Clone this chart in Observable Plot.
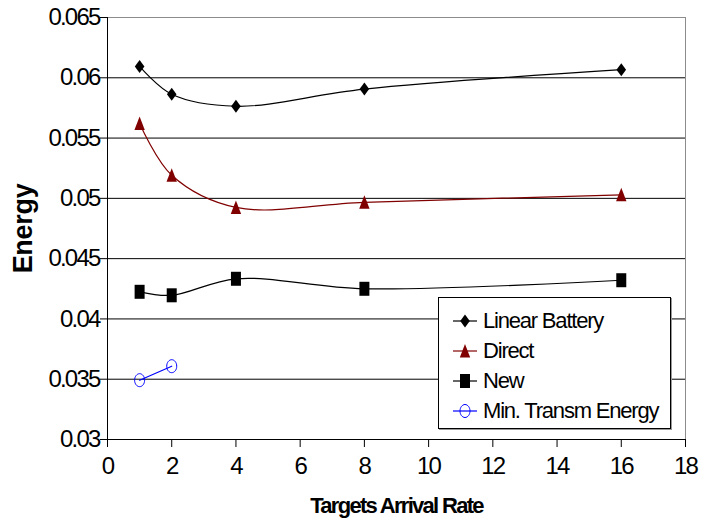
<!DOCTYPE html>
<html>
<head>
<meta charset="utf-8">
<script src="https://cdn.jsdelivr.net/npm/d3@7"></script>
<script src="https://cdn.jsdelivr.net/npm/@observablehq/plot@0.6"></script>
<style>
  html, body { margin: 0; padding: 0; background: #fff; }
  #wrap { position: relative; width: 715px; height: 527px; }
  #wrap svg text { letter-spacing: -1.8px; }
  #wrap svg g.ytitle text { letter-spacing: -0.3px; }
  #wrap svg g.xtitle text { letter-spacing: -1.7px; }
  #legend {
    position: absolute; left: 438px; top: 297px; width: 233px; height: 132px;
    box-sizing: border-box; border: 1px solid #000; background: #fff;
    box-shadow: 1px 1px 0 #999;
    font-family: "Liberation Sans", Arial, sans-serif; font-size: 22px; letter-spacing: -1.2px;
    padding-top: 8px;
  }
  .item { display: flex; align-items: center; height: 30px; }
  .item svg { margin-left: 14px; margin-right: 6px; }
</style>
</head>
<body>
<div id="wrap"></div>
<script>
// ---- data ----
const rates = [1, 2, 4, 8, 16];
const linearBattery = [0.06094, 0.05863, 0.05764, 0.05906, 0.06067];
const direct = [0.05621, 0.05192, 0.04925, 0.04967, 0.05029];
const newScheme = [0.04225, 0.04196, 0.04333, 0.04250, 0.04321];
const minRates = [1, 2];
const minTransm = [0.03492, 0.03608];
const seriesNames = ["Linear Battery", "Direct", "New", "Min. Transm Energy"];
const xTicks = [0, 2, 4, 6, 8, 10, 12, 14, 16, 18];
const yTicks = [0.03, 0.035, 0.04, 0.045, 0.05, 0.055, 0.06, 0.065];
const yTickLabels = ["0.03", "0.035", "0.04", "0.045", "0.05", "0.055", "0.06", "0.065"];
const xTitle = "Targets Arrival Rate";
const yTitle = "Energy";

// ---- symbols ----
const diamondSym = {draw(c) { c.moveTo(0, -6.5); c.lineTo(4.8, 0); c.lineTo(0, 6.5); c.lineTo(-4.8, 0); c.closePath(); }};
const triangleSym = {draw(c) { c.moveTo(0, -7); c.lineTo(5.2, 6.5); c.lineTo(-5.2, 6.5); c.closePath(); }};
const rectSym = {draw(c) { c.rect(-5, -7, 10, 14); }};
const ellipseSym = {draw(c) {
  const rx = 5, ry = 6.5, k = 0.5523;
  c.moveTo(rx, 0);
  c.bezierCurveTo(rx, ry * k, rx * k, ry, 0, ry);
  c.bezierCurveTo(-rx * k, ry, -rx, ry * k, -rx, 0);
  c.bezierCurveTo(-rx, -ry * k, -rx * k, -ry, 0, -ry);
  c.bezierCurveTo(rx * k, -ry, rx, -ry * k, rx, 0);
  c.closePath();
}};

const colors = ["#000000", "#800000", "#000000", "#0000ff"];

const toRows = (xs, ys) => xs.map((x, i) => ({x, y: ys[i]}));
const lb = toRows(rates, linearBattery);
const dr = toRows(rates, direct);
const nw = toRows(rates, newScheme);
const mt = toRows(minRates, minTransm);

const gridVals = yTicks.filter(v => v > 0.03 && v < 0.065);

const chart = Plot.plot({
  width: 715,
  height: 527,
  marginLeft: 107,
  marginRight: 30,
  marginTop: 17,
  marginBottom: 88,
  style: {fontFamily: "'Liberation Sans', Arial, sans-serif", fontSize: "24px", background: "#fff"},
  x: {domain: [0, 18]},
  y: {domain: [0.03, 0.065]},
  marks: [
    Plot.ruleY(gridVals, {stroke: "#000", strokeWidth: 1}),
    Plot.ruleY([0.065], {stroke: "#8c8c8c", strokeWidth: 1}),
    Plot.ruleX([18], {stroke: "#8c8c8c", strokeWidth: 1}),
    Plot.ruleX([0], {stroke: "#000", strokeWidth: 1}),
    Plot.ruleY([0.03], {stroke: "#000", strokeWidth: 1}),
    Plot.axisY({ticks: yTicks, tickFormat: d => yTickLabels[yTicks.indexOf(d)], tickSize: 7, tickPadding: 1, label: null, fontSize: 24, stroke: "#000"}),
    Plot.axisX({ticks: xTicks, tickFormat: d => String(d), tickSize: 8, tickPadding: 9, label: null, fontSize: 24, stroke: "#000"}),
    Plot.line(lb, {x: "x", y: "y", stroke: colors[0], strokeWidth: 1.2, curve: "catmull-rom"}),
    Plot.line(dr, {x: "x", y: "y", stroke: colors[1], strokeWidth: 1.2, curve: "catmull-rom"}),
    Plot.line(nw, {x: "x", y: "y", stroke: colors[2], strokeWidth: 1.2, curve: "catmull-rom"}),
    Plot.line(mt, {x: "x", y: "y", stroke: colors[3], strokeWidth: 1.2}),
    Plot.dot(lb, {x: "x", y: "y", symbol: diamondSym, fill: colors[0], stroke: "none"}),
    Plot.dot(dr, {x: "x", y: "y", symbol: triangleSym, fill: colors[1], stroke: "none"}),
    Plot.dot(nw, {x: "x", y: "y", symbol: rectSym, fill: colors[2], stroke: "none"}),
    Plot.dot(mt, {x: "x", y: "y", symbol: ellipseSym, fill: "none", stroke: colors[3], strokeWidth: 1}),
    Plot.text([yTitle], {frameAnchor: "left", text: d => d, rotate: -90, dx: -84, textAnchor: "middle", lineAnchor: "middle", fontWeight: "bold", fontSize: 27, className: "ytitle"}),
    Plot.text([xTitle], {frameAnchor: "bottom", text: d => d, dy: 66, textAnchor: "middle", lineAnchor: "middle", fontWeight: "bold", fontSize: 22, className: "xtitle"})
  ]
});

const wrap = document.getElementById("wrap");
wrap.appendChild(chart);

// ---- legend (HTML overlay inside the plot area) ----
const legend = document.createElement("div");
legend.id = "legend";
const symbols = [diamondSym, triangleSym, rectSym, ellipseSym];
seriesNames.forEach((name, i) => {
  const item = document.createElement("div");
  item.className = "item";
  const ns = "http://www.w3.org/2000/svg";
  const s = document.createElementNS(ns, "svg");
  s.setAttribute("width", 24); s.setAttribute("height", 16);
  const ln = document.createElementNS(ns, "line");
  ln.setAttribute("x1", 0); ln.setAttribute("x2", 24); ln.setAttribute("y1", 8); ln.setAttribute("y2", 8);
  ln.setAttribute("stroke", colors[i]); ln.setAttribute("stroke-width", 1.2);
  s.appendChild(ln);
  const p = d3.path();
  symbols[i].draw(p);
  const sym = document.createElementNS(ns, "path");
  sym.setAttribute("d", p.toString());
  sym.setAttribute("transform", "translate(12,8)");
  if (i === 3) { sym.setAttribute("fill", "none"); sym.setAttribute("stroke", colors[i]); }
  else sym.setAttribute("fill", colors[i]);
  s.appendChild(sym);
  item.appendChild(s);
  const t = document.createElement("span");
  t.textContent = name;
  item.appendChild(t);
  legend.appendChild(item);
});
wrap.appendChild(legend);
</script>
</body>
</html>
